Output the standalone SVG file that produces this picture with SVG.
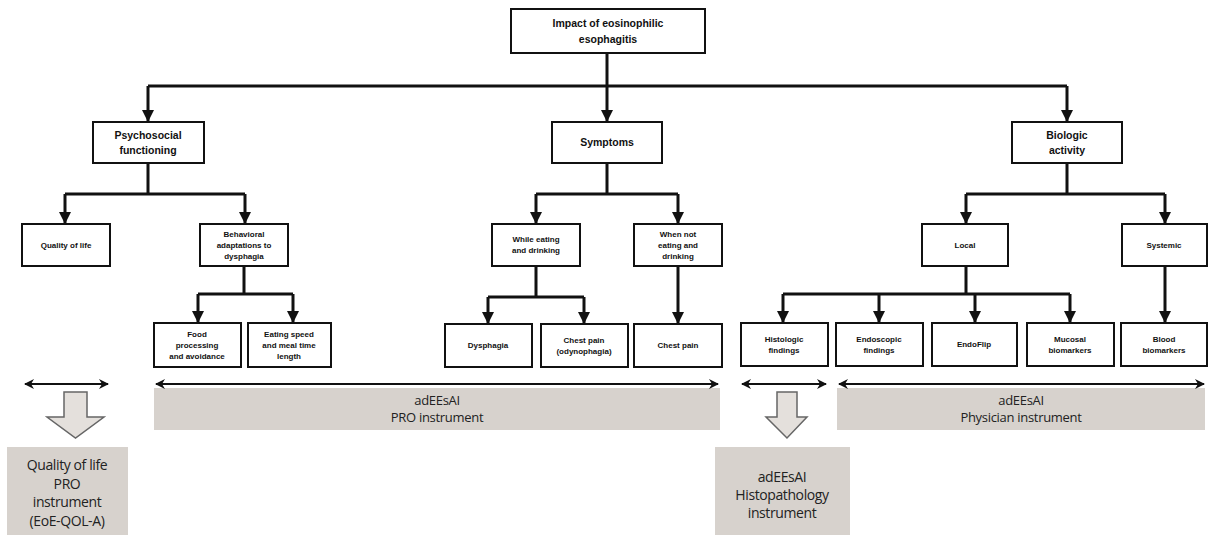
<svg xmlns="http://www.w3.org/2000/svg" width="1209" height="535" viewBox="0 0 1209 535">
<style>
.box{fill:#fff;stroke:#111;stroke-width:2}
.t1{font-family:"Liberation Sans",Arial,sans-serif;font-weight:bold;font-size:10.5px;fill:#111;text-anchor:middle}
.t2{font-family:"Liberation Sans",Arial,sans-serif;font-weight:bold;font-size:8px;fill:#111;text-anchor:middle}
.con{fill:none;stroke:#111;stroke-width:3}
.dbl{fill:none;stroke:#111;stroke-width:2}
.gbox{fill:#d7d2cd}
.gt{font-family:"Open Sans","Liberation Sans",sans-serif;font-size:14px;fill:#222;text-anchor:middle;letter-spacing:-0.4px}
.gs{font-family:"Open Sans","Liberation Sans",sans-serif;font-size:13px;fill:#222;text-anchor:middle;letter-spacing:-0.3px}
.hollow{fill:#e4e0dc;stroke:#666;stroke-width:1.5}
</style>
<defs>
<marker id="ah" markerUnits="userSpaceOnUse" markerWidth="12" markerHeight="12" viewBox="0 0 12 12" refX="11" refY="6" orient="auto">
<path d="M0,0 L12,6 L0,12 z" fill="#111"/>
</marker>
<marker id="sa" markerUnits="userSpaceOnUse" markerWidth="10" markerHeight="10" viewBox="0 0 10 10" refX="9" refY="5" orient="auto-start-reverse">
<path d="M0,0 L10,5 L0,10 L3,5 z" fill="#111"/>
</marker>
</defs>

<g id="connectors">
<path class="con" d="M607,53 V86"/>
<path class="con" d="M148,86 H1067"/>
<path class="con" d="M148,86 V121" marker-end="url(#ah)"/>
<path class="con" d="M607,86 V121" marker-end="url(#ah)"/>
<path class="con" d="M1067,86 V121" marker-end="url(#ah)"/>
<path class="con" d="M148,163 V194 M65,194 H245"/>
<path class="con" d="M65,194 V223" marker-end="url(#ah)"/>
<path class="con" d="M245,194 V223" marker-end="url(#ah)"/>
<path class="con" d="M244,266 V294 M198,294 H293"/>
<path class="con" d="M198,294 V322" marker-end="url(#ah)"/>
<path class="con" d="M293,294 V322" marker-end="url(#ah)"/>
<path class="con" d="M607,163 V194 M536,194 H678"/>
<path class="con" d="M536,194 V223" marker-end="url(#ah)"/>
<path class="con" d="M678,194 V223" marker-end="url(#ah)"/>
<path class="con" d="M536,266 V297 M488,297 H584"/>
<path class="con" d="M488,297 V323" marker-end="url(#ah)"/>
<path class="con" d="M584,297 V323" marker-end="url(#ah)"/>
<path class="con" d="M678,266 V323" marker-end="url(#ah)"/>
<path class="con" d="M1067,163 V194 M966,194 H1165"/>
<path class="con" d="M966,194 V223" marker-end="url(#ah)"/>
<path class="con" d="M1165,194 V223" marker-end="url(#ah)"/>
<path class="con" d="M966,266 V294 M783,294 H1070"/>
<path class="con" d="M783,294 V322" marker-end="url(#ah)"/>
<path class="con" d="M879,294 V322" marker-end="url(#ah)"/>
<path class="con" d="M975,294 V322" marker-end="url(#ah)"/>
<path class="con" d="M1070,294 V322" marker-end="url(#ah)"/>
<path class="con" d="M1165,266 V322" marker-end="url(#ah)"/>
</g>

<g id="n-impact"><rect class="box" x="511" y="9" width="194" height="44"/>
<text class="t1" x="608" y="27">Impact of eosinophilic</text><text class="t1" x="608" y="43">esophagitis</text></g>

<g id="n-psycho"><rect class="box" x="93" y="122" width="111" height="41"/>
<text class="t1" x="148" y="139">Psychosocial</text><text class="t1" x="148" y="154">functioning</text></g>
<g id="n-symptoms"><rect class="box" x="552" y="122" width="110" height="41"/>
<text class="t1" x="607" y="146">Symptoms</text></g>
<g id="n-biologic"><rect class="box" x="1012" y="122" width="110" height="41"/>
<text class="t1" x="1067" y="139">Biologic</text><text class="t1" x="1067" y="154">activity</text></g>

<g id="n-qol"><rect class="box" x="22" y="224" width="88" height="42"/>
<text class="t2" x="66" y="248">Quality of life</text></g>
<g id="n-behav"><rect class="box" x="200" y="224" width="88" height="42"/>
<text class="t2" x="244" y="237">Behavioral</text><text class="t2" x="244" y="248">adaptations to</text><text class="t2" x="244" y="259">dysphagia</text></g>
<g id="n-while"><rect class="box" x="492" y="224" width="88" height="42"/>
<text class="t2" x="536" y="242">While eating</text><text class="t2" x="536" y="253">and drinking</text></g>
<g id="n-whennot"><rect class="box" x="634" y="224" width="88" height="42"/>
<text class="t2" x="678" y="237">When not</text><text class="t2" x="678" y="248">eating and</text><text class="t2" x="678" y="259">drinking</text></g>
<g id="n-local"><rect class="box" x="922" y="224" width="86" height="42"/>
<text class="t2" x="965" y="248">Local</text></g>
<g id="n-systemic"><rect class="box" x="1122" y="224" width="85" height="42"/>
<text class="t2" x="1164" y="248">Systemic</text></g>

<g id="n-food"><rect class="box" x="154" y="323" width="87" height="44"/>
<text class="t2" x="197" y="337">Food</text><text class="t2" x="197" y="348">processing</text><text class="t2" x="197" y="359">and avoidance</text></g>
<g id="n-speed"><rect class="box" x="248" y="323" width="83" height="44"/>
<text class="t2" x="289" y="337">Eating speed</text><text class="t2" x="289" y="348">and meal time</text><text class="t2" x="289" y="359">length</text></g>
<g id="n-dysphagia"><rect class="box" x="445" y="324" width="87" height="43"/>
<text class="t2" x="488" y="348">Dysphagia</text></g>
<g id="n-odyno"><rect class="box" x="541" y="324" width="87" height="43"/>
<text class="t2" x="584" y="343">Chest pain</text><text class="t2" x="584" y="354">(odynophagia)</text></g>
<g id="n-chest"><rect class="box" x="634" y="324" width="88" height="43"/>
<text class="t2" x="678" y="348">Chest pain</text></g>
<g id="n-histo"><rect class="box" x="741" y="323" width="87" height="43"/>
<text class="t2" x="784" y="342">Histologic</text><text class="t2" x="784" y="353">findings</text></g>
<g id="n-endo"><rect class="box" x="836" y="323" width="87" height="43"/>
<text class="t2" x="879" y="342">Endoscopic</text><text class="t2" x="879" y="353">findings</text></g>
<g id="n-endoflip"><rect class="box" x="932" y="323" width="85" height="43"/>
<text class="t2" x="974" y="347">EndoFlip</text></g>
<g id="n-mucosal"><rect class="box" x="1027" y="323" width="87" height="43"/>
<text class="t2" x="1070" y="342">Mucosal</text><text class="t2" x="1070" y="353">biomarkers</text></g>
<g id="n-blood"><rect class="box" x="1121" y="323" width="86" height="43"/>
<text class="t2" x="1164" y="342">Blood</text><text class="t2" x="1164" y="353">biomarkers</text></g>

<g id="instruments">
<rect class="gbox" x="154" y="388" width="566" height="42"/>
<rect class="gbox" x="837" y="388" width="368" height="42"/>
<rect class="gbox" x="7" y="447" width="121" height="88"/>
<rect class="gbox" x="715" y="447" width="135" height="88"/>
<path class="dbl" d="M25,384 H108" marker-start="url(#sa)" marker-end="url(#sa)"/>
<path class="dbl" d="M156,384 H718" marker-start="url(#sa)" marker-end="url(#sa)"/>
<path class="dbl" d="M742,384 H826" marker-start="url(#sa)" marker-end="url(#sa)"/>
<path class="dbl" d="M839,384 H1204" marker-start="url(#sa)" marker-end="url(#sa)"/>
<path class="hollow" d="M64,392 H87 V417 H104 L75.5,438 L47,417 H64 Z"/>
<path class="hollow" d="M777,392 H797 V417 H807 L787,438 L766,417 H777 Z"/>
<text class="gs" x="437" y="405">adEEsAI</text><text class="gs" x="437" y="422">PRO instrument</text>
<text class="gs" x="1021" y="405">adEEsAI</text><text class="gs" x="1021" y="422">Physician instrument</text>
<text class="gt" x="67" y="470">Quality of life</text><text class="gt" x="67" y="489">PRO</text><text class="gt" x="67" y="507">instrument</text><text class="gt" x="67" y="526">(EoE-QOL-A)</text>
<text class="gt" x="782" y="482">adEEsAI</text><text class="gt" x="782" y="500">Histopathology</text><text class="gt" x="782" y="518">instrument</text>
</g>
</svg>
